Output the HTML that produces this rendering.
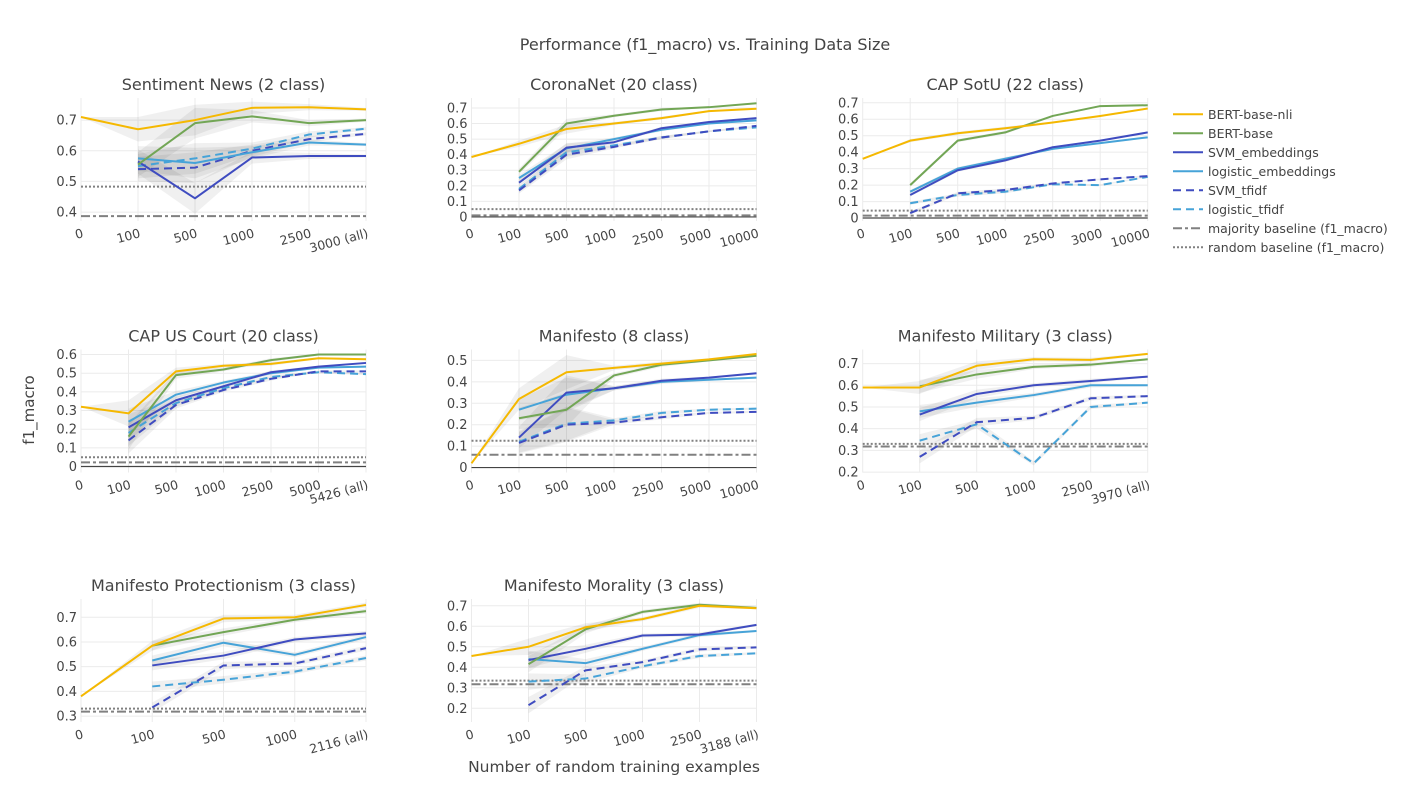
<!DOCTYPE html>
<html><head><meta charset="utf-8"><style>
body{margin:0;background:#fff}
svg{display:block;font-family:"DejaVu Sans","Liberation Sans",sans-serif}
</style></head><body>
<svg id="fig" width="1409" height="800" viewBox="0 0 1409 800" xmlns="http://www.w3.org/2000/svg">
<text x="705" y="50" text-anchor="middle" font-size="16" fill="#444">Performance (f1_macro) vs. Training Data Size</text>
<text x="614" y="772" text-anchor="middle" font-size="15.5" fill="#444">Number of random training examples</text>
<text x="0" y="0" transform="translate(34,410) rotate(-90)" text-anchor="middle" font-size="15" fill="#444">f1_macro</text>
<g id="panels"></g>
<g id="legend"></g>
</svg>
<script>
const seriesNames=["BERT-base-nli","BERT-base","SVM_embeddings","logistic_embeddings","SVM_tfidf","logistic_tfidf"];
const titles=["Sentiment News (2 class)","CoronaNet (20 class)","CAP SotU (22 class)","CAP US Court (20 class)","Manifesto (8 class)","Manifesto Military (3 class)","Manifesto Protectionism (3 class)","Manifesto Morality (3 class)"];
const cats1=["0","100","500","1000","2500","3000 (all)"];
const cats2=["0","100","500","1000","2500","5000","10000"];
const cats3=["0","100","500","1000","2500","3000","10000"];
const cats4=["0","100","500","1000","2500","5000","5426 (all)"];
const cats5=["0","100","500","1000","2500","5000","10000"];
const cats6=["0","100","500","1000","2500","3970 (all)"];
const cats7=["0","100","500","1000","2116 (all)"];
const cats8=["0","100","500","1000","2500","3188 (all)"];
// series values per panel: [nli, bert, svm_emb, log_emb, svm_tfidf, log_tfidf]
const vals1=[[.71,.67,.70,.74,.742,.735],[null,.555,.69,.712,.69,.70],[null,.565,.445,.578,.583,.583],[null,.575,.56,.595,.627,.62],[null,.54,.545,.60,.638,.655],[null,.55,.575,.607,.653,.672]];
const vals2=[[.385,.47,.565,.60,.635,.68,.695],[null,.29,.60,.65,.69,.705,.73],[null,.22,.445,.48,.57,.61,.635],[null,.25,.44,.50,.56,.60,.62],[null,.17,.40,.45,.51,.55,.585],[null,.18,.415,.46,.51,.55,.575]];
const vals3=[[.36,.47,.515,.545,.58,.62,.665],[null,.20,.47,.52,.62,.68,.685],[null,.14,.29,.35,.43,.47,.52],[null,.16,.30,.36,.42,.455,.49],[null,.03,.15,.17,.21,.235,.255],[null,.09,.14,.16,.205,.20,.25]];
const vals4=[[.32,.285,.51,.54,.55,.58,.575],[null,.16,.49,.52,.57,.60,.60],[null,.21,.355,.43,.505,.535,.555],[null,.24,.385,.45,.50,.53,.535],[null,.14,.33,.41,.47,.51,.51],[null,.18,.34,.42,.48,.505,.495]];
const vals5=[[.02,.32,.445,.465,.485,.505,.53],[null,.23,.27,.43,.48,.50,.522],[null,.14,.35,.37,.405,.42,.44],[null,.27,.34,.37,.40,.41,.42],[null,.115,.20,.21,.235,.255,.26],[null,.12,.205,.22,.255,.27,.275]];
const vals6=[[.59,.59,.69,.72,.717,.745],[null,.595,.65,.685,.695,.72],[null,.465,.56,.60,.62,.64],[null,.48,.52,.555,.60,.60],[null,.27,.43,.45,.54,.55],[null,.345,.42,.24,.50,.52]];
const vals7=[[.38,.585,.695,.70,.75],[null,.585,.64,.69,.725],[null,.505,.545,.61,.635],[null,.525,.597,.548,.62],[null,.335,.505,.513,.575],[null,.42,.447,.48,.535]];
const vals8=[[.455,.50,.595,.635,.70,.688],[null,.415,.585,.67,.705,.69],[null,.435,.49,.555,.56,.607],[null,.44,.42,.49,.557,.577],[null,.215,.385,.425,.487,.497],[null,.33,.345,.405,.455,.468]];
const spread1=[0,.04,.05,.02,.01,.005];
const spread2=[0,.02,.03,.01,.01,.005,.005];
const spread3=[0,.01,.01,.01,.005,.005,.005];
const spread4=[0,.07,.02,.01,.01,.005,.005];
const spread5=[0,.05,.08,.01,.01,.005,.005];
const spread6=[0,.03,.02,.01,.01,.005];
const spread7=[0,.02,.015,.01,.01];
const spread8=[0,.04,.02,.01,.01,.005];
const majority=[.387,.01,.015,.022,.06,.318,.318,.317];
const randomB=[.483,.05,.045,.05,.125,.33,.33,.335];
const yTicks1=[.4,.5,.6,.7];
const yTicks2=[0,.1,.2,.3,.4,.5,.6,.7];
const yTicks3=[0,.1,.2,.3,.4,.5,.6,.7];
const yTicks4=[0,.1,.2,.3,.4,.5,.6];
const yTicks5=[0,.1,.2,.3,.4,.5];
const yTicks6=[.2,.3,.4,.5,.6,.7];
const yTicks7=[.3,.4,.5,.6,.7];
const yTicks8=[.2,.3,.4,.5,.6,.7];
const yDomains=[[.371,.772],[-.026,.764],[-.018,.729],[-.032,.627],[-.023,.551],[.198,.765],[.276,.774],[.133,.733]];

const colors=["#f5b800","#72a655","#3f4cc0","#46a3d8","#3f4cc0","#46a3d8"];
const dashes=[null,null,null,null,"8,5","8,5"];
const cats=[cats1,cats2,cats3,cats4,cats5,cats6,cats7,cats8];
const vals=[vals1,vals2,vals3,vals4,vals5,vals6,vals7,vals8];
const spreads=[spread1,spread2,spread3,spread4,spread5,spread6,spread7,spread8];
const yTicks=[yTicks1,yTicks2,yTicks3,yTicks4,yTicks5,yTicks6,yTicks7,yTicks8];
const NS="http://www.w3.org/2000/svg";
function mk(tag,attrs,parent){const e=document.createElementNS(NS,tag);for(const k in attrs)e.setAttribute(k,attrs[k]);parent.appendChild(e);return e;}
const colLeft=[81,471.5,862.7], W=285, rowBottom=[221,472.5,722], H=123;
const root=document.getElementById('panels');
for(let p=0;p<8;p++){
  const c=p%3,r=Math.floor(p/3);
  const L=colLeft[c],B=rowBottom[r],T=B-H,R=L+W;
  const [lo,hi]=yDomains[p];
  const n=cats[p].length;
  const xs=i=>L+i*W/(n-1);
  const ys=v=>B-(v-lo)/(hi-lo)*H;
  const g=mk('g',{},root);
  
  
  const t=mk('text',{x:(L+R)/2,y:T-8,'text-anchor':'middle','font-size':16,fill:'#444'},g);
  t.textContent=titles[p];
  
  
  cats[p].forEach((lab,i)=>{
    const gl=mk('line',{x1:xs(i),x2:xs(i),y1:T,y2:B,stroke:'#ebebeb','stroke-width':1},g);
    
    
    const tx=mk('text',{x:0,y:0,'text-anchor':'end','font-size':12.5,fill:'#444',transform:`translate(${xs(i)+3},${B+16}) rotate(-15)`},g);
    tx.textContent=lab;
    
    
  });
  yTicks[p].forEach(v=>{
    const zero=Math.abs(v)<1e-9;
    const gl=mk('line',{x1:L,x2:R,y1:ys(v),y2:ys(v),stroke:zero?'#444':'#ebebeb','stroke-width':zero?1.2:1},g);
    
    
    const tx=mk('text',{x:L-4,y:ys(v)+4.5,'text-anchor':'end','font-size':13,fill:'#444'},g);
    tx.textContent=zero?'0':v.toFixed(1);
    
    
  });
  vals[p].forEach((s,si)=>{
    const up=[],dn=[];
    s.forEach((v,i)=>{if(v!==null){up.push([xs(i),ys(v+spreads[p][i])]);dn.push([xs(i),ys(v-spreads[p][i])]);}});
    const pts=up.concat(dn.reverse()).map(q=>q.join(',')).join(' ');
    const bd=mk('polygon',{points:pts,fill:'rgba(0,0,0,0.06)',stroke:'none'},g);
    
    
  });
  const mj=mk('line',{x1:L,x2:R,y1:ys(majority[p]),y2:ys(majority[p]),stroke:'#808080','stroke-width':2,'stroke-dasharray':'9,3,3,3'},g);
  
  
  const rb=mk('line',{x1:L,x2:R,y1:ys(randomB[p]),y2:ys(randomB[p]),stroke:'#808080','stroke-width':2,'stroke-dasharray':'2,2'},g);
  
  
  for(let si=5;si>=0;si--){
    const s=vals[p][si];
    const pts=[];s.forEach((v,i)=>{if(v!==null)pts.push(xs(i)+','+ys(v));});
    const a={points:pts.join(' '),fill:'none',stroke:colors[si],'stroke-width':2,'stroke-linejoin':'round'};
    if(dashes[si])a['stroke-dasharray']=dashes[si];
    const pl=mk('polyline',a,g);
    
    
  }
}
const lg=document.getElementById('legend');
const legNames=seriesNames.concat(["majority baseline (f1_macro)","random baseline (f1_macro)"]);
const legColors=colors.concat(["#808080","#808080"]);
const legDash=dashes.concat(["9,3,3,3","2,2"]);
legNames.forEach((nm,i)=>{
  const y=114.3+i*19;
  const a={x1:1173,x2:1203,y1:y,y2:y,stroke:legColors[i],'stroke-width':2};
  if(legDash[i])a['stroke-dasharray']=legDash[i];
  const ln=mk('line',a,lg);
  
  
  const tx=mk('text',{x:1208,y:y+4.5,'font-size':12.5,fill:'#444'},lg);
  tx.textContent=nm;
  
  
});
</script>
</body></html>
